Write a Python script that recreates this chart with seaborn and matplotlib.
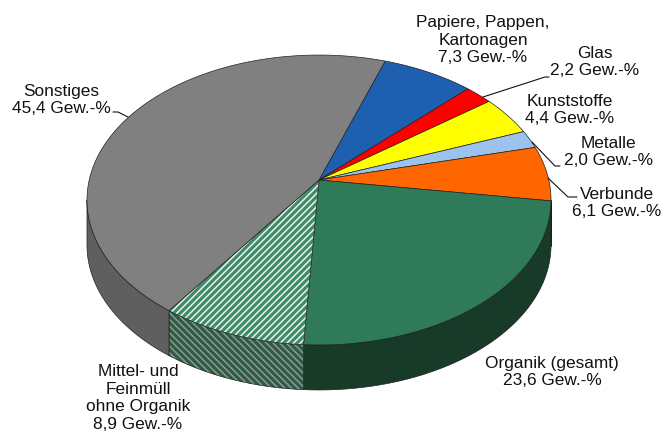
import numpy as np
import matplotlib
matplotlib.use('Agg')
import matplotlib.pyplot as plt
from matplotlib.patches import Polygon
import seaborn as sns

# data
labels = ['Papiere, Pappen,\nKartonagen', 'Glas', 'Kunststoffe', 'Metalle',
          'Verbunde', 'Organik (gesamt)', 'Mittel- und\nFeinmüll\nohne Organik',
          'Sonstiges']
values = [7.3, 2.2, 4.4, 2.0, 6.1, 23.6, 8.9, 45.4]
value_text = ['7,3', '2,2', '4,4', '2,0', '6,1', '23,6', '8,9', '45,4']

top_colors = ['#1f5fb0', '#ff0000', '#ffff00', '#9cc3ee', '#ff6600',
              '#2f7a58', '#e2f1e8', '#808080']
side_colors = ['#17467f', '#b00000', '#b0b000', '#6c8aa8', '#b84800',
               '#183a29', '#8e9690', '#5f5f5f']

# config.
sns.set_theme(style='white')
plt.rcParams['font.family'] = ['Liberation Sans', 'DejaVu Sans']
plt.rcParams['hatch.linewidth'] = 2.8
DPI = 80
######################################

# perspective of the disc (pixel space)
X0, Y0 = 319, 180
SX, SY, K = 229.8, 142.2, 0.138
DEPTH = 45
START = 71.0


def proj(t_deg, dy=0):
    t = np.radians(t_deg)
    u, v = np.cos(t), np.sin(t)
    w = 1 + K * v
    return X0 + SX * u / w, Y0 - SY * v / w + dy


def arc(a, b, dy=0, n=120):
    ts = np.linspace(a, b, n)
    x, y = proj(ts, dy)
    return np.column_stack([x, y])


# slice angles, clockwise from START
ends = START - np.cumsum(values) / sum(values) * 360
starts = np.concatenate([[START], ends[:-1]])

fig = plt.figure(figsize=(661 / DPI, 435 / DPI), dpi=DPI)
ax = fig.add_axes([0, 0, 1, 1])
ax.set_xlim(0, 661)
ax.set_ylim(435, 0)
ax.axis('off')

edge = '#1e1e1e'
t_left = -180 + np.degrees(np.arcsin(K))
t_right = -np.degrees(np.arcsin(K))

# sides
for i in range(len(values)):
    lo, hi = max(ends[i], t_left), min(starts[i], t_right)
    if lo >= hi:
        continue
    pts = np.vstack([arc(lo, hi), arc(hi, lo, DEPTH)])
    if i == 6:
        ax.add_patch(Polygon(pts, closed=True, facecolor=side_colors[i],
                             edgecolor='#2c5c45', lw=0, hatch='\\\\\\\\'))
        ax.add_patch(Polygon(pts, closed=True, fill=False, edgecolor=edge, lw=0.6))
    else:
        ax.add_patch(Polygon(pts, closed=True, facecolor=side_colors[i],
                             edgecolor=edge, lw=0.6))

# top faces
for i in range(len(values)):
    pts = np.vstack([[[X0, Y0]], arc(starts[i], ends[i])])
    if i == 6:
        ax.add_patch(Polygon(pts, closed=True, facecolor=top_colors[i],
                             edgecolor='#3f8a68', lw=0, hatch='////'))
        ax.add_patch(Polygon(pts, closed=True, fill=False, edgecolor=edge, lw=0.6))
    else:
        ax.add_patch(Polygon(pts, closed=True, facecolor=top_colors[i],
                             edgecolor=edge, lw=0.6))

# labels
label_pos = [(483, 40), (595, 62), (570, 110), (608, 152), (617, 203),
             (552, 372), (138, 398), (61, 100)]
for lab, vt, (x, y) in zip(labels, value_text, label_pos):
    ax.text(x, y, f'{lab}\n{vt} Gew.-%', ha='center', va='center',
            fontsize=15.5, color='#111111', linespacing=1.2)

# leader lines
leaders = [
    [(483, 97), (545, 77), (549, 77)],
    [(532, 142), (555, 166), (560, 166)],
    [(548, 178), (568, 197), (577, 197)],
    [(113, 112), (118, 112), (128, 117)],
]
for ln in leaders:
    xs, ys = zip(*ln)
    ax.plot(xs, ys, color='#111111', lw=1.0)

fig.savefig('out.png', dpi=DPI)
